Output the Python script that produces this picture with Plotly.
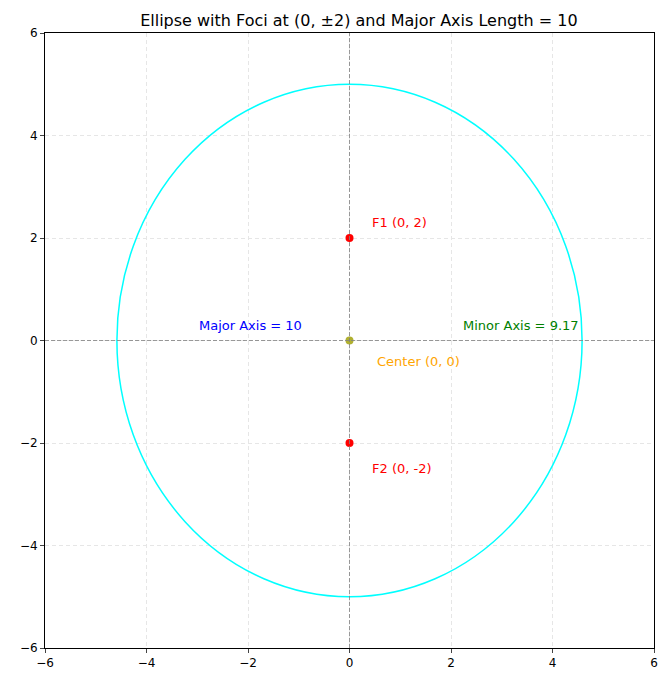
import plotly.graph_objects as go

semi_major = 5.0
semi_minor = 4.583
foci_x = [0, 0]
foci_y = [2, -2]
center = [0, 0]
labels = [
    ("F1 (0, 2)", 0.4, 2.3, "red"),
    ("F2 (0, -2)", 0.4, -2.5, "red"),
    ("Center (0, 0)", 0.5, -0.4, "orange"),
    ("Major Axis = 10", -3.0, 0.3, "blue"),
    ("Minor Axis = 9.17", 2.2, 0.3, "green"),
]
ticks = [-6, -4, -2, 0, 2, 4, 6]

fig = go.Figure()
fig.add_shape(type="circle", x0=-semi_minor, x1=semi_minor, y0=-semi_major, y1=semi_major,
              line=dict(color="cyan", width=1.5))
fig.add_hline(y=0, line=dict(color="gray", width=0.8, dash="4px,2px"))
fig.add_vline(x=0, line=dict(color="gray", width=0.8, dash="4px,2px"))
fig.add_trace(go.Scatter(x=foci_x, y=foci_y, mode="markers",
                         marker=dict(color="red", size=8), showlegend=False))
fig.add_trace(go.Scatter(x=[center[0]], y=[center[1]], mode="markers",
                         marker=dict(color="#b0b030", size=8), showlegend=False))
for text, x, y, c in labels:
    fig.add_annotation(x=x, y=y, text=text, showarrow=False, xanchor="left",
                       yanchor="middle", font=dict(color=c, size=13))

axis = dict(range=[-6, 6], tickvals=ticks, showgrid=True, gridcolor="#e6e6e6",
            griddash="4px,3px", zeroline=False, showline=True, linecolor="black",
            mirror=True, ticks="outside", ticklen=4, tickfont=dict(size=12, color="black"))
fig.update_layout(
    width=662, height=674,
    margin=dict(l=32, r=14, t=25, b=33),
    plot_bgcolor="white", paper_bgcolor="white",
    font=dict(family="DejaVu Sans"),
    title=dict(text="Ellipse with Foci at (0, ±2) and Major Axis Length = 10",
               x=0.53, xanchor="center", y=0.99, yanchor="top",
               font=dict(size=16, color="black")),
    xaxis=axis, yaxis=dict(axis),
)
fig.write_html("out.html")
